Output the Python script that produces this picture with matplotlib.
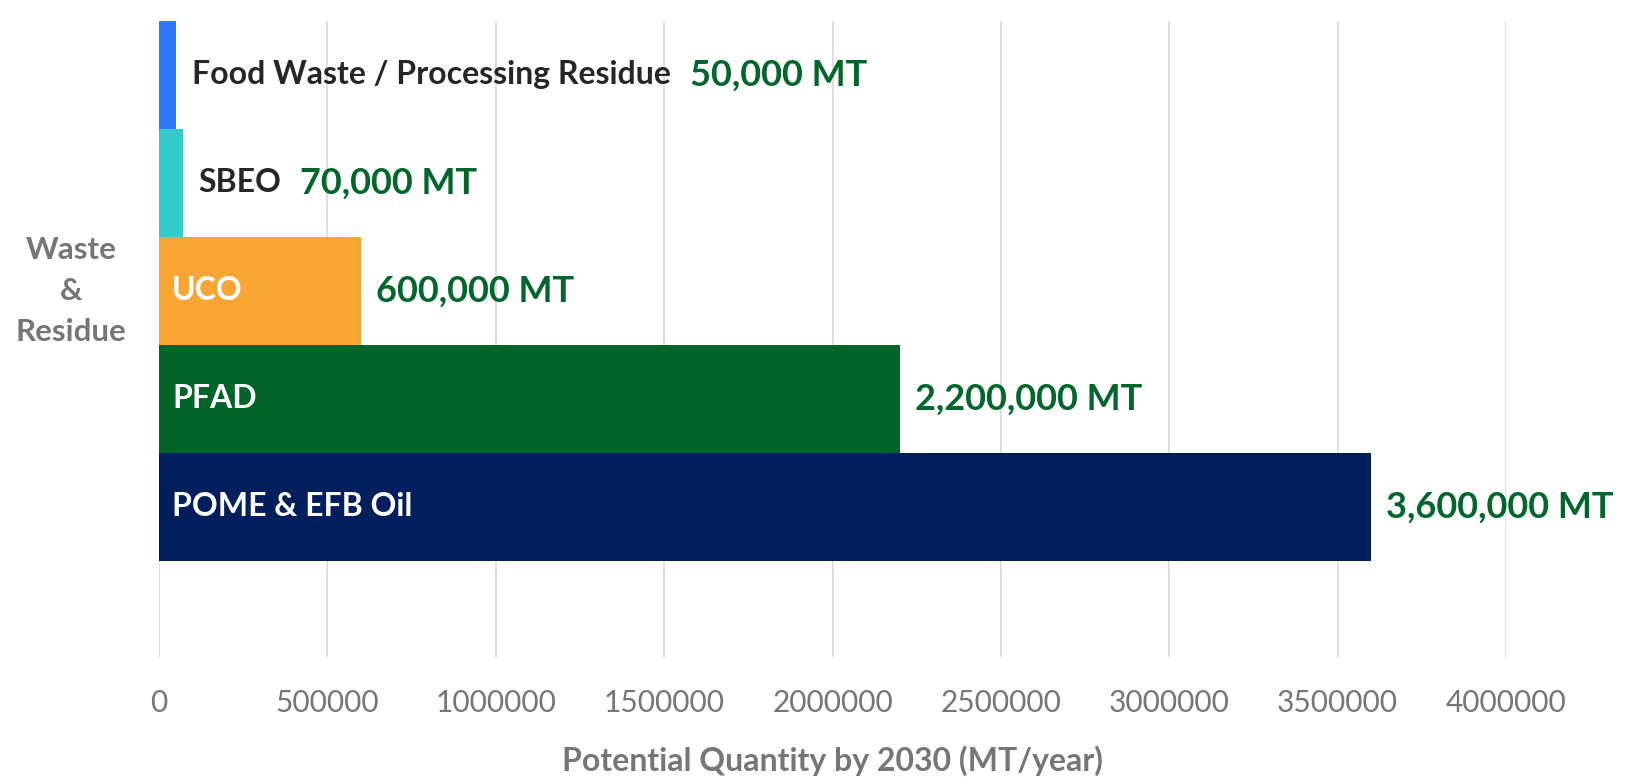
import matplotlib.pyplot as plt
from matplotlib.ticker import FuncFormatter

# data (bottom bar first)
categories = ["POME & EFB Oil", "PFAD", "UCO", "SBEO", "Food Waste / Processing Residue"]
values = [3600000, 2200000, 600000, 70000, 50000]
value_labels = ["3,600,000 MT", "2,200,000 MT", "600,000 MT", "70,000 MT", "50,000 MT"]
label_inside = [True, True, True, False, False]
group_label = "Waste\n&\nResidue"
x_ticks = [0, 500000, 1000000, 1500000, 2000000, 2500000, 3000000, 3500000, 4000000]

COLORS = ["#001f5c", "#006428", "#f9a533", "#33cccc", "#3077fa"]
VALUE_GREEN = "#00662b"
DARK = "#262626"
GRAY = "#767676"
GRID = "#d9d9d9"
FONT = "Lato"

plt.rcParams["font.family"] = [FONT, "DejaVu Sans"]

fig = plt.figure(figsize=(16.29, 7.77), dpi=100)
ax = fig.add_axes([0.0976, 0.1544, 0.8269, 0.8186])

ypos = list(range(len(categories)))
ax.barh(ypos, values, height=1.0, color=COLORS, zorder=3)

ax.set_xlim(0, 4000000)
ax.set_ylim(-1.39, 4.5)
ax.set_xticks(x_ticks)
ax.xaxis.set_major_formatter(FuncFormatter(lambda v, p: f"{int(v)}"))
ax.set_yticks([])
ax.grid(True, axis="x", color=GRID, linewidth=1.2, zorder=0)
ax.set_axisbelow(True)
for s in ax.spines.values():
    s.set_visible(False)
ax.tick_params(axis="x", length=0, pad=23, labelsize=21.5, labelcolor=GRAY)

for y, v, cat, lab, inside in zip(ypos, values, categories, value_labels, label_inside):
    if inside:
        ax.annotate(cat, xy=(0, y), xytext=(13, 0), textcoords="offset pixels",
                    ha="left", va="center", fontsize=23, fontweight="bold",
                    color="white", zorder=5)
        ax.annotate(lab, xy=(v, y), xytext=(15, 0), textcoords="offset pixels",
                    ha="left", va="center", fontsize=26, fontweight="bold",
                    color=VALUE_GREEN, zorder=5)
    else:
        t = ax.annotate(cat, xy=(v, y), xytext=(16, 0), textcoords="offset pixels",
                        ha="left", va="center", fontsize=23, fontweight="bold",
                        color=DARK, zorder=5)
        ax.annotate(lab, xy=(1, 0.5), xycoords=t, xytext=(19, 0),
                    textcoords="offset pixels", ha="left", va="center",
                    fontsize=26, fontweight="bold", color=VALUE_GREEN, zorder=5)

# group (category axis) label, centred on the middle bar
ax.annotate(group_label, xy=(0, 2), xycoords=("figure fraction", "data"),
            xytext=(71, 0), textcoords="offset pixels", ha="center", va="center",
            multialignment="center", linespacing=1.55, fontsize=22.5,
            fontweight="bold", color=GRAY)

ax.set_xlabel("Potential Quantity by 2030 (MT/year)", fontsize=23,
              fontweight="bold", color=GRAY, labelpad=20)

fig.savefig("out.png", dpi=100, facecolor="white")
